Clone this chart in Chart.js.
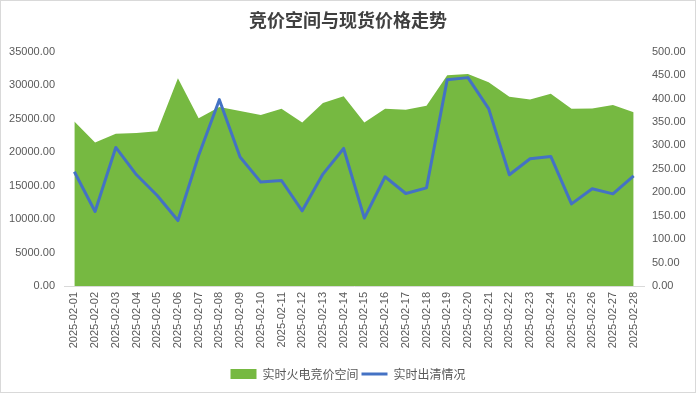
<!DOCTYPE html>
<html><head><meta charset="utf-8">
<script src="https://cdn.jsdelivr.net/npm/chart.js@4"></script>
<style>html,body{margin:0;padding:0;background:#fff;}#wrap{width:696px;height:393px;position:relative;}</style>
</head><body><div id="wrap"><canvas id="c" width="696" height="393"></canvas></div>
<script>
const categories = ["2025-02-01","2025-02-02","2025-02-03","2025-02-04","2025-02-05","2025-02-06","2025-02-07","2025-02-08","2025-02-09","2025-02-10","2025-02-11","2025-02-12","2025-02-13","2025-02-14","2025-02-15","2025-02-16","2025-02-17","2025-02-18","2025-02-19","2025-02-20","2025-02-21","2025-02-22","2025-02-23","2025-02-24","2025-02-25","2025-02-26","2025-02-27","2025-02-28"];
const biddingSpace = [24580,21440,22740,22840,23090,31010,25030,26730,26130,25530,26480,24430,27330,28320,24430,26480,26330,26930,31460,31670,30410,28270,27830,28720,26480,26520,27030,25930];
const clearingPrice = [243.6,158.9,295.6,237.2,193.0,139.6,278.5,397.5,275.0,221.6,225.0,160.3,238.7,293.4,144.7,233.0,197.3,209.4,440.2,444.5,378.3,237.2,271.4,276.4,175.2,207.3,196.6,235.1];
const leftTicks = {min:0,max:35000,step:5000};
const rightTicks = {min:0,max:500,step:50};
const seriesNames = ["实时火电竞价空间","实时出清情况"];
const title = "竞价空间与现货价格走势";

const GREEN = "#76B941", BLUE = "#4472C4", TXT = "#595959";
const bgBorder = {
  id:'bgBorder',
  beforeDraw(c){const x=c.ctx;x.save();x.fillStyle='#fff';x.fillRect(0,0,c.width,c.height);x.restore();},
  afterDraw(c){const x=c.ctx;x.save();x.strokeStyle='#d9d9d9';x.lineWidth=1;x.strokeRect(0.5,0.5,c.width-1,c.height-1);x.restore();}
};
new Chart(document.getElementById('c'), {
  type:'line',
  data:{labels:categories,datasets:[
    {label:seriesNames[0],data:biddingSpace,yAxisID:'y',fill:'origin',backgroundColor:GREEN,borderColor:GREEN,borderWidth:0,pointRadius:0,tension:0,order:1},
    {label:seriesNames[1],data:clearingPrice,yAxisID:'y1',fill:false,borderColor:BLUE,backgroundColor:BLUE,borderWidth:3,pointRadius:0,tension:0,order:0,borderJoinStyle:'round'}
  ]},
  options:{
    responsive:false,animation:false,
    layout:{padding:{left:0,right:0,top:0,bottom:3}},
    plugins:{
      title:{display:true,text:title,color:'#404040',font:{family:'"Noto Sans CJK SC"',size:18,weight:'bold'},padding:{top:9,bottom:21}},
      legend:{position:'bottom',labels:{color:TXT,font:{family:'"Noto Sans CJK SC"',size:12},usePointStyle:true,pointStyleWidth:26,boxHeight:10,padding:3,
        generateLabels(chart){return chart.data.datasets.map((d,i)=>({text:d.label,fillStyle:i===0?GREEN:BLUE,strokeStyle:i===0?GREEN:BLUE,lineWidth:i===0?0:3,pointStyle:i===0?'rect':'line',datasetIndex:i,fontColor:TXT,hidden:false}));}}},
      tooltip:{enabled:false}
    },
    scales:{
      x:{offset:true,grid:{display:false,drawTicks:false},border:{display:true,color:'#d9d9d9',width:1},
        ticks:{color:TXT,font:{family:'"Liberation Sans"',size:11},minRotation:90,maxRotation:90,autoSkip:false,padding:6},
        afterFit(s){s.height=79;}},
      y:{position:'left',min:leftTicks.min,max:leftTicks.max,grid:{display:false,drawTicks:false},border:{display:false},
        ticks:{stepSize:leftTicks.step,color:TXT,font:{family:'"Liberation Sans"',size:11},padding:9,callback:v=>Number(v).toFixed(2)},
        afterFit(s){s.width=64;}},
      y1:{position:'right',min:rightTicks.min,max:rightTicks.max,grid:{display:false,drawTicks:false},border:{display:false},
        ticks:{stepSize:rightTicks.step,color:TXT,font:{family:'"Liberation Sans"',size:11},padding:8,callback:v=>Number(v).toFixed(2)},
        afterFit(s){s.width=52;}}
    }
  },
  plugins:[bgBorder]
});
</script></body></html>
